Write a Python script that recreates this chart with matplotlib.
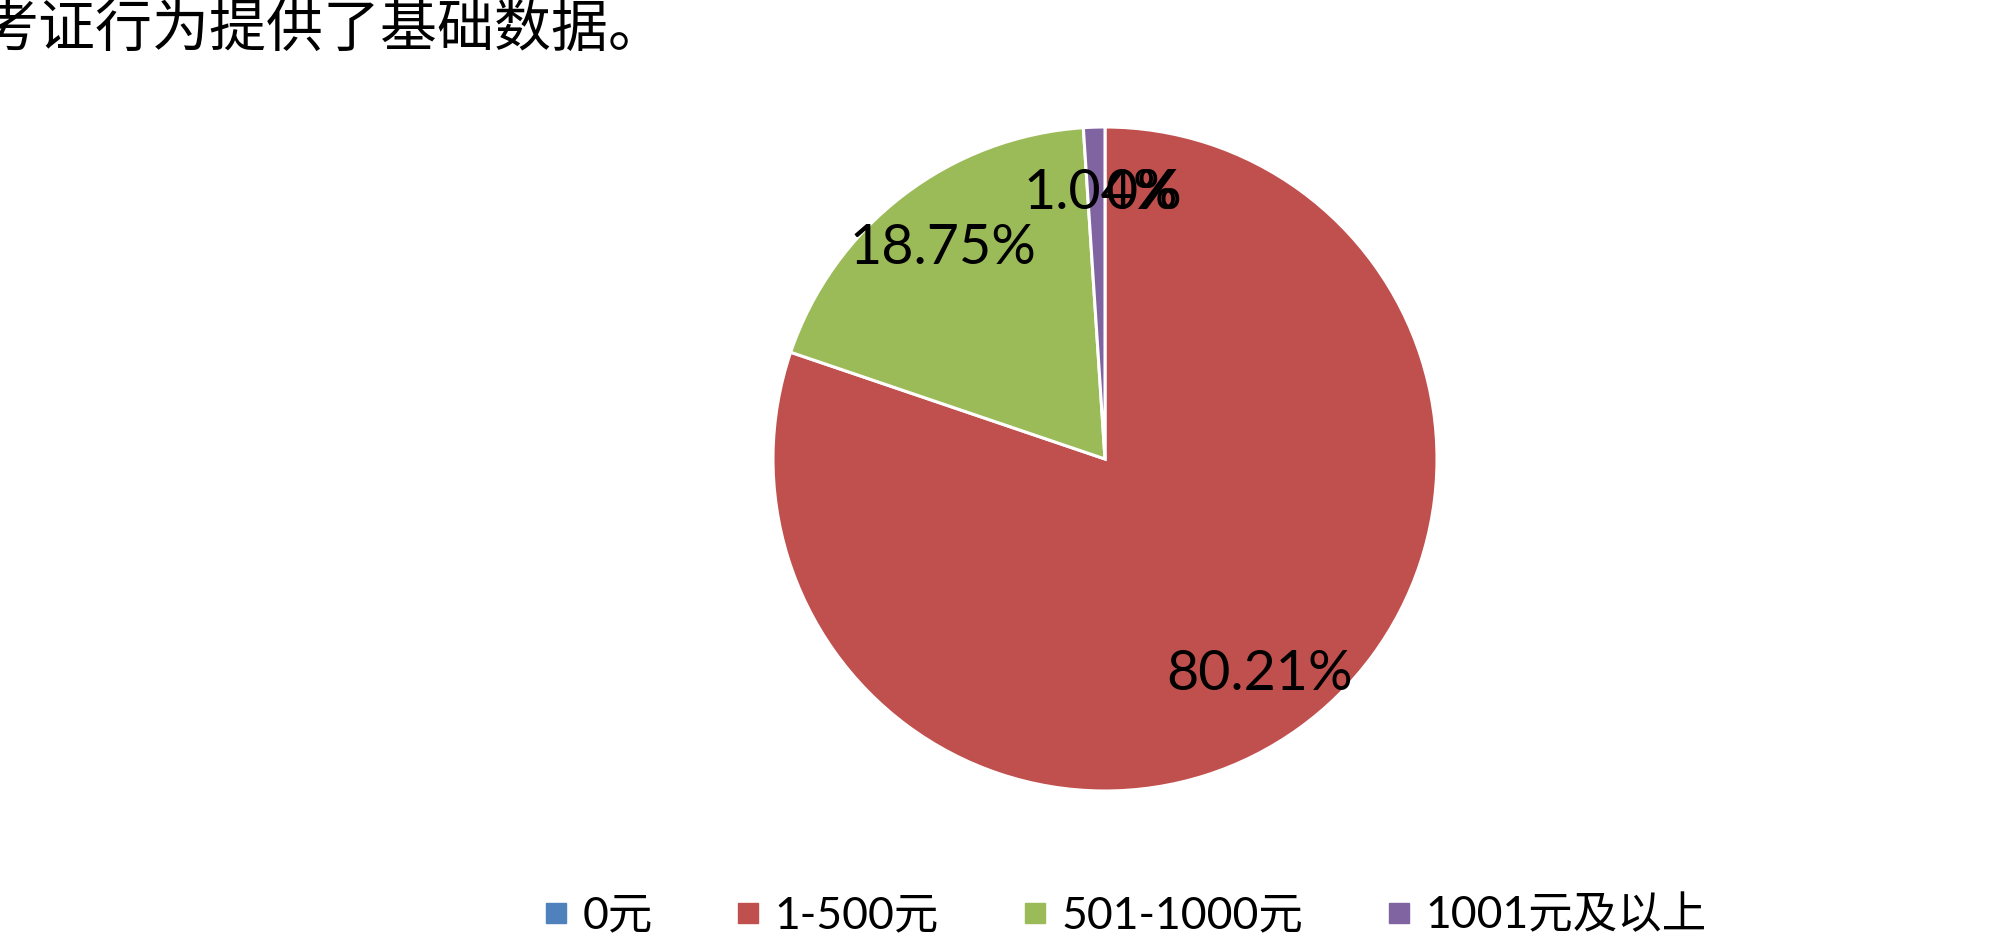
import matplotlib.pyplot as plt
from matplotlib.lines import Line2D

plt.rcParams['font.family'] = ['Lato', 'Noto Sans CJK SC', 'DejaVu Sans']

# data
categories = ["0元", "1-500元", "501-1000元", "1001元及以上"]
shares = [0.0, 80.21, 18.75, 1.04]
colors = ["#4F81BD", "#C0504D", "#9BBB59", "#8064A2"]
intro_text = "考证行为提供了基础数据。"

fig = plt.figure(figsize=(20, 9.5), dpi=100)

# pie axes: centre ~ (1105, 459) px, radius ~ 332 px
ax = fig.add_axes([(1105 - 332) / 2000, (950 - 459 - 332) / 950,
                   664 / 2000, 664 / 950])


def fmt(p):
    if p < 0.005:
        return "0%"
    return f"{p:.2f}%"


wedges, texts, autotexts = ax.pie(
    shares,
    colors=colors,
    startangle=90,
    counterclock=False,
    autopct=fmt,
    pctdistance=0.8,
    radius=1,
    wedgeprops=dict(edgecolor="white", linewidth=2.2),
    textprops=dict(fontsize=40, color="black"),
)
# zero slice label sits on top of the 1.04% one, as in the original
autotexts[0].set_ha("left")
autotexts[3].set_ha("right")
autotexts[3].set_x(autotexts[0].get_position()[0] + 0.22)
ax.set_xlim(-1, 1)
ax.set_ylim(-1, 1)
ax.set_aspect("equal")
ax.axis("off")

# leftover sentence from the document page
fig.text(-0.009, 1 - 30 / 950, intro_text, fontsize=41,
         family=['Noto Sans CJK SC', 'DejaVu Sans'], va="center", ha="left")

# legend
handles = [Line2D([], [], marker="s", linestyle="", markersize=15,
                  markerfacecolor=c, markeredgecolor=c) for c in colors]
fig.legend(handles, categories, loc="center", bbox_to_anchor=(0.56, 0.036),
           ncol=4, frameon=False, fontsize=32, handletextpad=0.1,
           columnspacing=1.65, handlelength=1.0)

fig.savefig("out.png", dpi=100)
